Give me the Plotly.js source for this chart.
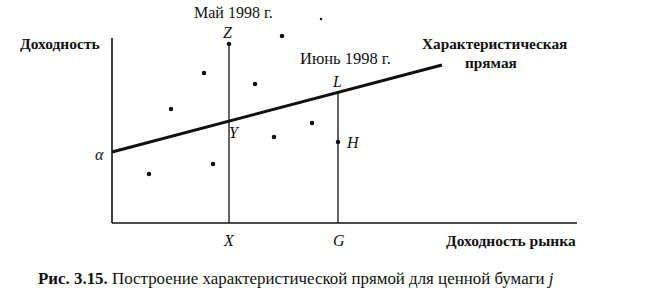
<!DOCTYPE html>
<html><head><meta charset="utf-8">
<script src="https://cdn.plot.ly/plotly-3.0.1.min.js"></script>
<style>html,body{margin:0;padding:0;background:#fff}#c{width:646px;height:303px}</style>
</head><body><div id="c"></div>
<script>
// Scatter of monthly returns (market return, security return)
const marketReturn = [9.2, 14.3, 5.9, 17.0, 20.0, 16.2, 3.7, 10.1];
const securityReturn = [15.0, 13.9, 11.4, 18.7, 10.0, 8.6, 4.9, 5.9];
const specX = [20.9], specY = [20.4];
// Characteristic line endpoints
const lineX = [0, 33.0];
const lineY = [7.1, 15.8];
// May 1998 (X, Y on line, Z actual) and June 1998 (G, L on line, H actual)
const mayX = [11.7, 11.7];  const mayY = [0, 17.9];
const junX = [22.6, 22.6];  const junY = [0, 13.06];
const pointsX = [11.7, 22.6]; const pointsY = [17.9, 8.1];
// Axes
const axisYx = [0, 0], axisYy = [0, 18.5];
const axisXx = [0, 46.5], axisXy = [0, 0];

const serif = "'Liberation Serif', 'DejaVu Serif', serif";
const black = '#111';
const traces = [
  {x: axisYx, y: axisYy, mode: 'lines', line: {color: black, width: 1.6}},
  {x: axisXx, y: axisXy, mode: 'lines', line: {color: black, width: 1.6}},
  {x: mayX, y: mayY, mode: 'lines', line: {color: black, width: 1.3}},
  {x: junX, y: junY, mode: 'lines', line: {color: black, width: 1.3}},
  {x: lineX, y: lineY, mode: 'lines', line: {color: black, width: 3}},
  {x: marketReturn, y: securityReturn, mode: 'markers', marker: {color: black, size: 4.5}},
  {x: pointsX, y: pointsY, mode: 'markers', marker: {color: black, size: 4.5}},
  {x: specX, y: specY, mode: 'markers', marker: {color: black, size: 2.5}}
];
function f(size) { return {family: serif, size: size, color: black}; }
function ann(x, y, text, opts) {
  return Object.assign({x: x, y: y, xref: 'x', yref: 'y', text: text, showarrow: false,
    xanchor: 'center', yanchor: 'middle', font: f(15)}, opts || {});
}
const annotations = [
  ann(12.1, 21.1, 'Май 1998 г.', {font: f(16)}),
  ann(11.6, 19.1, '<i>Z</i>', {font: f(16)}),
  ann(-5.2, 18.0, '<b>Доходность</b>', {font: f(15.5)}),
  ann(23.3, 16.5, 'Июнь 1998 г.', {font: f(16.5)}),
  ann(22.5, 14.2, '<i>L</i>', {font: f(16)}),
  ann(38.2, 18.0, '<b>Характеристическая</b>', {font: f(15.3)}),
  ann(37.9, 16.1, '<b>прямая</b>', {font: f(15.3)}),
  ann(12.2, 9.1, '<i>Y</i>', {font: f(16)}),
  ann(24.1, 8.1, '<i>H</i>', {font: f(16)}),
  ann(-1.3, 6.9, '<i>α</i>', {font: f(16)}),
  ann(11.7, -1.7, '<i>X</i>', {font: f(16)}),
  ann(22.7, -1.7, '<i>G</i>', {font: f(16)}),
  ann(39.9, -1.7, '<b>Доходность рынка</b>', {font: f(15.5)}),
  ann(-7.6, -5.5, '<b>Рис. 3.15.</b> Построение характеристической прямой для ценной бумаги <i>j</i>',
      {xanchor: 'left', font: f(16.9)})
];
const layout = {
  width: 646, height: 303, margin: {l: 0, r: 0, t: 0, b: 0},
  paper_bgcolor: '#fff', plot_bgcolor: '#fff', showlegend: false,
  font: {family: serif},
  xaxis: {range: [-11.2, 53.4], visible: false, fixedrange: true},
  yaxis: {range: [-8.0, 22.3], visible: false, fixedrange: true},
  annotations: annotations
};
Plotly.newPlot('c', traces, layout, {staticPlot: true, displayModeBar: false});
</script></body></html>
